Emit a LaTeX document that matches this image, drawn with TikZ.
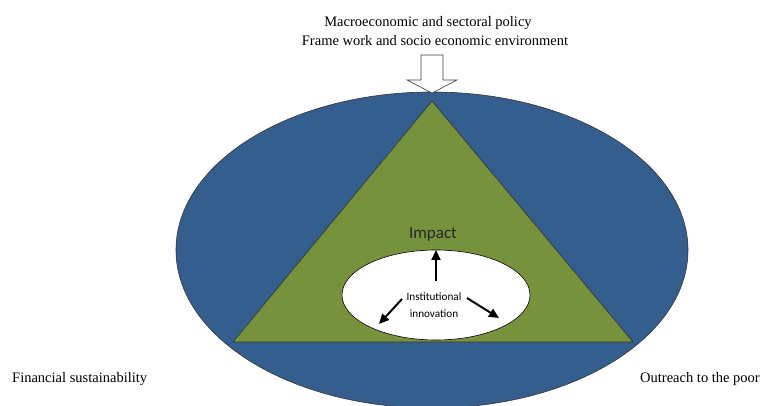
\documentclass[tikz,border=0pt]{standalone}
\usepackage{fontspec}
\setmainfont{Liberation Serif}
\newfontfamily\calibrilike{Carlito}
\usetikzlibrary{arrows.meta,shapes.geometric}
\definecolor{outerblue}{RGB}{52,94,142}
\definecolor{olivegreen}{RGB}{119,146,60}
\begin{document}
\begin{tikzpicture}[x=1pt,y=-1pt,
  serifnote/.style={font=\fontsize{14.5}{17}\selectfont, inner sep=0pt, anchor=base},
  innerlabel/.style={font=\calibrilike\fontsize{11.2}{13}\selectfont, inner sep=0pt, anchor=base},
  flowarrow/.style={-{Triangle[length=10pt,width=9pt]}, line width=2pt}]
\useasboundingbox (0,0) rectangle (761,406);
\fill[white] (0,0) rectangle (761,406);
\begin{scope}
\clip (0,0) rectangle (761,406);
% outer ellipse
\draw[fill=outerblue, draw=black!80, line width=0.6pt] (432,250) ellipse [x radius=256, y radius=158];
\end{scope}
% triangle
\draw[fill=olivegreen, draw=black!80, line width=0.6pt] (432,101) -- (633,342) -- (233,342) -- cycle;
% inner ellipse
\node[draw=black, fill=white, ellipse, line width=0.6pt, minimum width=188pt, minimum height=90pt, inner sep=0pt] (inner) at (436,295) {};
% block arrow from policy framework
\draw[fill=white, draw=black!75, line width=0.6pt] (421,55) -- (443,55) -- (443,80) -- (457,80) -- (432,93) -- (407,80) -- (421,80) -- cycle;
% labels
\node[serifnote] (macro) at (428,27) {Macroeconomic and sectoral policy};
\node[serifnote] (frame) at (435,46) {Frame work and socio economic environment};
\node[serifnote, anchor=base west] (fin) at (12,382) {Financial sustainability};
\node[serifnote, anchor=base west] (out) at (640,382) {Outreach to the poor};
\node[font=\calibrilike\fontsize{17}{20}\selectfont, inner sep=0pt, anchor=base, text=black!85] (impact) at (433,239) {Impact};
\node[innerlabel] (inst) at (434,301) {Institutional};
\node[innerlabel] (innov) at (434,318) {innovation};
% arrows inside
\coordinate (upA) at (436,281);
\coordinate (upB) at (436,250);
\coordinate (lA) at (402,299);
\coordinate (lB) at (379,324);
\coordinate (rA) at (467,298);
\coordinate (rB) at (499,318);
\draw[flowarrow] (upA) -- (upB);
\draw[flowarrow] (lA) -- (lB);
\draw[flowarrow] (rA) -- (rB);
\end{tikzpicture}
\end{document}
